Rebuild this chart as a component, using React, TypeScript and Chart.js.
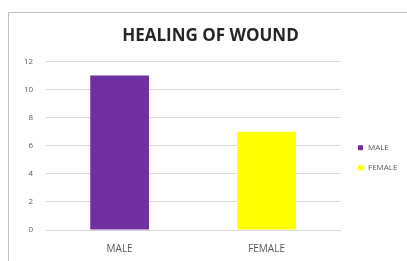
import React, { useEffect, useRef } from "react";
import { Chart, registerables } from "chart.js";

Chart.register(...registerables);

const categories = ["MALE", "FEMALE"];
const values = [11, 7];
const barColors = ["#7030A0", "#FFFF00"];
const chartTitle = "HEALING OF WOUND";
const yMin = 0;
const yMax = 12;
const yStep = 2;

const sideLegend = {
  id: "sideLegend",
  afterDraw(chart: any) {
    const { ctx, chartArea } = chart;
    const cy = (chartArea.top + chartArea.bottom) / 2;
    ctx.save();
    ctx.font = "8px 'Open Sans'";
    ctx.textBaseline = "middle";
    ctx.textAlign = "left";
    categories.forEach((cat, i) => {
      const y = cy + 2 + i * 20;
      ctx.fillStyle = barColors[i];
      ctx.fillRect(chartArea.right + 18, y - 2.5, 5, 5);
      ctx.fillStyle = "#595959";
      ctx.fillText(cat, chartArea.right + 28, y);
    });
    ctx.restore();
  },
};

export default function App() {
  const ref = useRef<HTMLCanvasElement | null>(null);

  useEffect(() => {
    if (!ref.current) return;
    const chart = new Chart(ref.current, {
      type: "bar",
      data: {
        labels: categories,
        datasets: [
          {
            label: chartTitle,
            data: values,
            backgroundColor: barColors,
            borderWidth: 0,
            categoryPercentage: 0.8,
            barPercentage: 0.5,
          },
        ],
      },
      options: {
        responsive: false,
        animation: false,
        layout: { padding: { left: 12, right: 8, top: 0, bottom: 4 } },
        plugins: {
          title: {
            display: true,
            text: chartTitle,
            color: "#262626",
            font: { family: "'Open Sans'", size: 17, weight: "bold" },
            padding: { top: 13, bottom: 15 },
          },
          legend: { display: false },
          tooltip: { enabled: false },
        },
        scales: {
          x: {
            grid: {
              display: true,
              drawOnChartArea: false,
              drawTicks: true,
              tickLength: 10,
              tickColor: "rgba(0,0,0,0)",
            },
            border: { display: true, color: "#d9d9d9" },
            ticks: {
              padding: 3,
              color: "#595959",
              font: { family: "'Open Sans'", size: 10 },
            },
          },
          y: {
            min: yMin,
            max: yMax,
            grid: {
              color: "#d9d9d9",
              drawTicks: true,
              tickLength: 10,
              tickColor: "rgba(0,0,0,0)",
            },
            border: { display: false },
            ticks: {
              stepSize: yStep,
              padding: 3,
              color: "#595959",
              font: { family: "'Open Sans'", size: 8 },
            },
          },
          legendSpace: {
            type: "linear",
            position: "right",
            display: true,
            grid: { display: false },
            border: { display: false },
            ticks: { display: false },
            afterFit: (s: any) => {
              s.width = 60;
            },
          },
        },
      },
      plugins: [sideLegend],
    });
    return () => chart.destroy();
  }, []);

  return (
    <div
      style={{
        position: "absolute",
        left: 8,
        top: 12,
        width: 420,
        height: 260,
        borderLeft: "1px solid #bfbfbf",
        borderTop: "1px solid #bfbfbf",
        background: "#fff",
      }}
    >
      <canvas ref={ref} width={399} height={249} style={{ display: "block" }} />
    </div>
  );
}
